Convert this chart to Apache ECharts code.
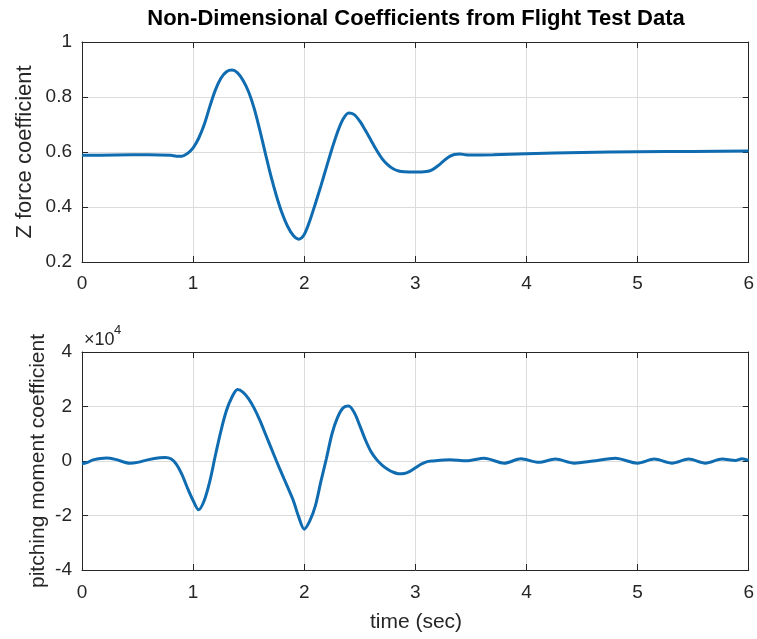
<!DOCTYPE html>
<html>
<head>
<meta charset="utf-8">
<script src="https://cdn.jsdelivr.net/npm/echarts@6/dist/echarts.min.js"></script>
<style>html,body{margin:0;padding:0;background:#fff;}#c{width:757px;height:639px;}</style>
</head>
<body>
<div id="c"></div>
<script>
// ---- data ----
var titleText = 'Non-Dimensional Coefficients from Flight Test Data';
var zLabel = 'Z force coefficient';
var mLabel = 'pitching moment coefficient';
var xLabel = 'time (sec)';
var xTicks = [0, 1, 2, 3, 4, 5, 6];
var zTicks = [0.2, 0.4, 0.6, 0.8, 1];
var mTicks = [-40000, -20000, 0, 20000, 40000];

var zTime = [0, 0.3, 0.6, 0.8, 0.85, 0.9, 0.95, 1.0, 1.05, 1.1, 1.15, 1.2, 1.25, 1.3, 1.35, 1.4, 1.45, 1.5, 1.55, 1.6, 1.65, 1.7, 1.75, 1.8, 1.85, 1.9, 1.95, 2.0, 2.05, 2.1, 2.15, 2.2, 2.25, 2.3, 2.35, 2.4, 2.45, 2.5, 2.55, 2.6, 2.65, 2.7, 2.75, 2.8, 2.85, 2.9, 3.0, 3.1, 3.15, 3.2, 3.25, 3.3, 3.35, 3.4, 3.45, 3.5, 3.7, 4.0, 4.5, 5.0, 5.5, 6.0];
var zVals = [0.588, 0.589, 0.590, 0.588, 0.585, 0.585, 0.595, 0.615, 0.65, 0.70, 0.765, 0.825, 0.868, 0.892, 0.898, 0.888, 0.860, 0.818, 0.758, 0.68, 0.595, 0.513, 0.440, 0.378, 0.330, 0.297, 0.283, 0.300, 0.350, 0.412, 0.477, 0.545, 0.612, 0.673, 0.720, 0.742, 0.736, 0.712, 0.679, 0.643, 0.607, 0.576, 0.554, 0.539, 0.531, 0.528, 0.527, 0.529, 0.535, 0.549, 0.566, 0.582, 0.591, 0.593, 0.590, 0.589, 0.590, 0.594, 0.598, 0.601, 0.602, 0.604];

var mTime = [0, 0.05, 0.1, 0.22, 0.3, 0.43, 0.5, 0.6, 0.7, 0.75, 0.8, 0.85, 0.9, 0.95, 1.0, 1.05, 1.1, 1.15, 1.2, 1.25, 1.3, 1.35, 1.4, 1.45, 1.5, 1.55, 1.6, 1.65, 1.7, 1.75, 1.8, 1.85, 1.9, 1.95, 2.0, 2.05, 2.1, 2.15, 2.2, 2.25, 2.3, 2.35, 2.4, 2.45, 2.5, 2.55, 2.6, 2.65, 2.7, 2.75, 2.8, 2.85, 2.9, 2.95, 3.0, 3.05, 3.1, 3.15, 3.31, 3.46, 3.62, 3.80, 3.95, 4.11, 4.26, 4.43, 4.6, 4.80, 5.0, 5.15, 5.31, 5.46, 5.61, 5.76, 5.88, 5.94, 6.0];
var mVals = [-1000, -500, 400, 1100, 600, -800, -500, 500, 1200, 1300, 800, -1200, -5000, -10000, -14500, -17900, -14500, -7500, 2000, 11000, 18500, 23500, 26200, 25200, 22800, 19300, 15000, 10000, 5000, 0, -4800, -9500, -14300, -20500, -25000, -22000, -16500, -7500, 1000, 10000, 16000, 19500, 20200, 17800, 13000, 7800, 3500, 600, -1500, -3000, -4100, -4700, -4600, -3800, -2500, -1200, -300, 0, 500, 100, 1000, -800, 800, -500, 700, -800, 0, 1000, -800, 700, -800, 700, -800, 700, 200, 800, 200];

// ---- chart ----
var chart = echarts.init(document.getElementById('c'), null, {renderer: 'canvas'});
var FONT = '"Liberation Sans", Arial, sans-serif';
var TXT = '#262626';
var lineColor = '#0f6cb0';

function zip(a, b) { return a.map(function (v, i) { return [v, b[i]]; }); }

function xAx(grid, pos, labels, margin) {
  return {
    type: 'value', gridIndex: grid, position: pos, min: xTicks[0], max: xTicks[xTicks.length - 1], interval: 1,
    axisLine: {show: true, onZero: false, lineStyle: {color: TXT, width: 1}},
    axisTick: {show: true, inside: true, length: 6, lineStyle: {color: TXT}},
    axisLabel: {show: labels, color: TXT, fontSize: 19, fontFamily: FONT, margin: margin},
    splitLine: {show: labels, lineStyle: {color: '#dcdcdc', width: 1}}
  };
}
function yAx(grid, pos, ticks, labels, fmt) {
  return {
    type: 'value', gridIndex: grid, position: pos, min: ticks[0], max: ticks[ticks.length - 1], interval: ticks[1] - ticks[0],
    axisLine: {show: true, onZero: false, lineStyle: {color: TXT, width: 1}},
    axisTick: {show: true, inside: true, length: 6, lineStyle: {color: TXT}},
    axisLabel: {show: labels, color: TXT, fontSize: 19, fontFamily: FONT, margin: 10, formatter: fmt},
    splitLine: {show: labels, lineStyle: {color: '#dcdcdc', width: 1}}
  };
}

var option = {
  backgroundColor: '#ffffff',
  animation: false,
  grid: [
    {left: 82, top: 42, width: 668, height: 220},
    {left: 82, top: 352, width: 668, height: 218}
  ],
  xAxis: [
    xAx(0, 'bottom', true, 12),
    xAx(0, 'top', false, 8),
    xAx(1, 'bottom', true, 13),
    xAx(1, 'top', false, 8)
  ],
  yAxis: [
    yAx(0, 'left', zTicks, true, function (v) { return String(Math.round(v * 10) / 10); }),
    yAx(0, 'right', zTicks, false),
    yAx(1, 'left', mTicks, true, function (v) { return String(v / 10000); }),
    yAx(1, 'right', mTicks, false)
  ],
  series: [
    {type: 'line', xAxisIndex: 0, yAxisIndex: 0, data: zip(zTime, zVals), showSymbol: false, smooth: 0.3,
      lineStyle: {color: lineColor, width: 3}},
    {type: 'line', xAxisIndex: 2, yAxisIndex: 2, data: zip(mTime, mVals), showSymbol: false, smooth: 0.3,
      lineStyle: {color: lineColor, width: 3}}
  ],
  graphic: [
    {type: 'text', x: 416, y: 19, style: {text: titleText, align: 'center', verticalAlign: 'middle', fontSize: 22, fontWeight: 'bold', fontFamily: FONT, fill: '#000'}},
    {type: 'text', x: 25, y: 152, rotation: Math.PI / 2, style: {text: zLabel, align: 'center', verticalAlign: 'middle', fontSize: 22, fontFamily: FONT, fill: TXT}},
    {type: 'text', x: 38, y: 461, rotation: Math.PI / 2, style: {text: mLabel, align: 'center', verticalAlign: 'middle', fontSize: 21, fontFamily: FONT, fill: TXT}},
    {type: 'text', x: 416, y: 622, style: {text: xLabel, align: 'center', verticalAlign: 'middle', fontSize: 21, fontFamily: FONT, fill: TXT}},
    {type: 'text', x: 84, y: 340, style: {text: '\u00d710', align: 'left', verticalAlign: 'middle', fontSize: 18, fontFamily: FONT, fill: TXT}},
    {type: 'text', x: 114, y: 330, style: {text: '4', align: 'left', verticalAlign: 'middle', fontSize: 13, fontFamily: FONT, fill: TXT}}
  ]
};
chart.setOption(option);
</script>
</body>
</html>
